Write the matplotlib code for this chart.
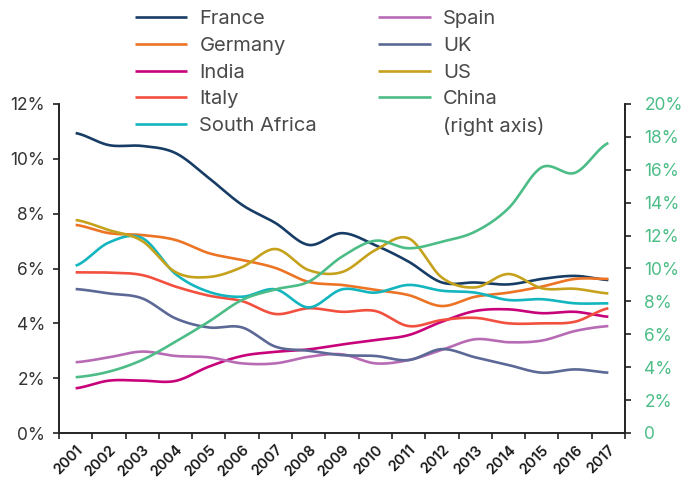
import numpy as np
import matplotlib.pyplot as plt
from matplotlib.lines import Line2D

plt.rcParams['font.family'] = ['Inter', 'DejaVu Sans']

years = [str(y) for y in range(2001, 2018)]

# left axis, % of GDP
france = [10.94, 10.5, 10.47, 10.21, 9.3, 8.32, 7.66, 6.86, 7.29, 6.85, 6.25, 5.49, 5.49, 5.42, 5.62, 5.73, 5.58]
germany = [7.59, 7.29, 7.22, 7.04, 6.56, 6.31, 6.02, 5.51, 5.4, 5.22, 5.03, 4.63, 4.97, 5.12, 5.34, 5.62, 5.62]
india = [1.63, 1.91, 1.91, 1.9, 2.42, 2.81, 2.96, 3.05, 3.23, 3.39, 3.57, 4.06, 4.45, 4.51, 4.37, 4.42, 4.24]
italy = [5.86, 5.85, 5.76, 5.34, 5.01, 4.81, 4.34, 4.55, 4.42, 4.45, 3.9, 4.12, 4.2, 4.0, 4.0, 4.06, 4.55]
south_africa = [6.1, 6.95, 7.11, 5.8, 5.15, 4.97, 5.24, 4.58, 5.24, 5.12, 5.4, 5.19, 5.12, 4.85, 4.88, 4.73, 4.73]
spain = [2.58, 2.76, 2.97, 2.81, 2.76, 2.54, 2.54, 2.78, 2.87, 2.54, 2.66, 3.03, 3.42, 3.31, 3.37, 3.72, 3.9]
uk = [5.25, 5.09, 4.91, 4.18, 3.85, 3.85, 3.15, 3.0, 2.84, 2.81, 2.66, 3.06, 2.76, 2.48, 2.2, 2.32, 2.2]
us = [7.77, 7.4, 7.0, 5.87, 5.69, 6.05, 6.71, 5.94, 5.87, 6.67, 7.1, 5.67, 5.31, 5.8, 5.28, 5.26, 5.09]
# right axis
china = [3.39, 3.73, 4.44, 5.55, 6.77, 8.09, 8.73, 9.2, 10.72, 11.69, 11.23, 11.63, 12.24, 13.66, 16.15, 15.82, 17.63]

left_series = [
    ('France', france, '#173d66'),
    ('Germany', germany, '#ec7424'),
    ('India', india, '#c8027a'),
    ('Italy', italy, '#f2503f'),
    ('South Africa', south_africa, '#13b5bf'),
    ('Spain', spain, '#b86bb5'),
    ('UK', uk, '#5c6895'),
    ('US', us, '#c6a21c'),
]
china_color = '#4cbd87'


def smooth(y, n=24):
    # catmull-rom curve through the yearly points, like a smoothed excel line
    y = np.asarray(y, float)
    p = np.concatenate([[y[0]], y, [y[-1]]])
    xs, ys = [], []
    t = np.linspace(0, 1, n, endpoint=False)
    for i in range(len(y) - 1):
        p0, p1, p2, p3 = p[i], p[i + 1], p[i + 2], p[i + 3]
        yy = 0.5 * (2 * p1 + (-p0 + p2) * t + (2 * p0 - 5 * p1 + 4 * p2 - p3) * t ** 2
                    + (-p0 + 3 * p1 - 3 * p2 + p3) * t ** 3)
        xs.append(i + t)
        ys.append(yy)
    xs.append([len(y) - 1])
    ys.append([y[-1]])
    return np.concatenate(xs), np.concatenate(ys)


fig = plt.figure(figsize=(6.97, 4.88), dpi=100)
ax = fig.add_axes([59 / 697, 1 - 433 / 488, (625 - 59) / 697, (433 - 104) / 488])
ax2 = ax.twinx()

handles = []
for name, vals, col in left_series:
    xs, ys = smooth(vals)
    ln, = ax.plot(xs, ys, color=col, lw=1.9, solid_capstyle='butt')
    handles.append(ln)

xs, ys = smooth(china)
ln_china, = ax2.plot(xs, ys, color=china_color, lw=1.9, solid_capstyle='butt')

ax.set_xlim(-0.5, len(years) - 0.5)
ax.set_ylim(0, 12)
ax2.set_ylim(0, 20)

ax.set_yticks(np.arange(0, 13, 2))
ax.set_yticklabels(['%d%%' % v for v in range(0, 13, 2)], family='Inter')
ax2.set_yticks(np.arange(0, 21, 2))
ax2.set_yticklabels(['0'] + ['%d%%' % v for v in range(2, 21, 2)], family='Inter')

ax.set_xticks(np.arange(len(years)))
ax.set_xticklabels(years, rotation=45, ha='right', rotation_mode='anchor',
                   family='Inter', fontweight='semibold')
ax.set_xticks(np.arange(-0.5, len(years)), minor=True)
ax.tick_params(axis='x', which='major', length=0, pad=7, labelsize=10.5, labelcolor='#1a1a1a')
ax.tick_params(axis='x', which='minor', length=4, width=1.2, color='#222222')
ax.tick_params(axis='y', length=4, width=1.2, color='#222222', labelsize=12.5,
               labelcolor='#333333', pad=6)
ax2.tick_params(axis='y', length=4, width=1.2, color='#222222', labelsize=12.5,
                labelcolor=china_color, pad=10)

for a in (ax, ax2):
    a.spines['top'].set_visible(False)
    for s in ('left', 'right', 'bottom'):
        a.spines[s].set_color('#222222')
        a.spines[s].set_linewidth(1.2)
ax.patch.set_visible(False)

# legend: 5 rows x 2 columns, second column ends with a caption row
blank = Line2D([], [], color='none')
leg_handles = handles[:5] + handles[5:] + [ln_china, blank]
leg_labels = [s[0] for s in left_series[:5]] + [s[0] for s in left_series[5:]] + ['China', '(right axis)']
leg = ax2.legend(leg_handles, leg_labels, ncol=2, loc='upper left',
                 bbox_to_anchor=(135 / 697, 1 - 10 / 488), bbox_transform=fig.transFigure,
                 frameon=False, prop={'family': 'Inter', 'size': 14.5},
                 handlelength=2.6, handletextpad=0.6,
                 columnspacing=3.05, labelspacing=0.43, borderpad=0, borderaxespad=0)
for txt in leg.get_texts():
    txt.set_color('#4a4a4a')

fig.savefig('out.png', dpi=100)
